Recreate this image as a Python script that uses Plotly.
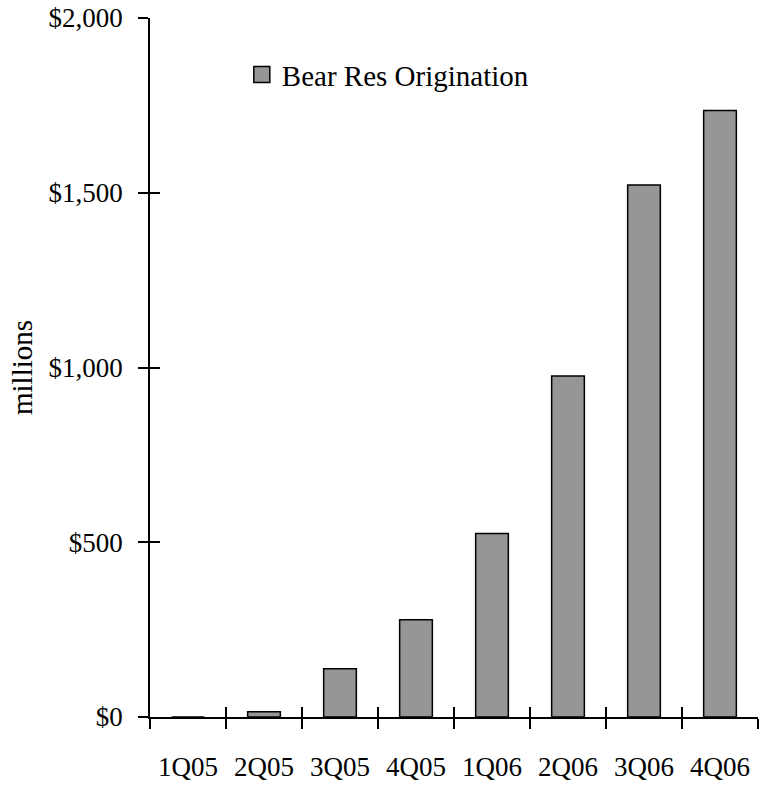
import plotly.graph_objects as go

quarters = ["1Q05", "2Q05", "3Q05", "4Q05", "1Q06", "2Q06", "3Q06", "4Q06"]
origination = [0, 15, 138, 278, 525, 976, 1522, 1735]
series_name = "Bear Res Origination"
y_ticks = [0, 500, 1000, 1500, 2000]
y_tick_labels = ["$0", "$500", "$1,000", "$1,500", "$2,000"]

FONT = "Liberation Serif, Times New Roman, serif"
BAR_FILL = "#969696"

fig = go.Figure()
fig.add_trace(go.Bar(
    x=quarters, y=origination, name=series_name, showlegend=False,
    marker=dict(color=BAR_FILL, line=dict(color="black", width=1.5)),
    hoverinfo="x+y",
))
# invisible copy on overlay axes to draw the inner half of the crossing ticks
fig.add_trace(go.Bar(
    x=quarters, y=origination, xaxis="x2", yaxis="y2", showlegend=False,
    marker=dict(color="rgba(0,0,0,0)", line=dict(width=0)), hoverinfo="skip",
))
# legend entry
fig.add_trace(go.Scatter(
    x=[None], y=[None], mode="markers", name=series_name,
    marker=dict(symbol="square", size=16, color=BAR_FILL,
                line=dict(color="black", width=1.5)),
))

axis_common = dict(showgrid=False, zeroline=False, linecolor="black", linewidth=1.5,
                   tickcolor="black", tickwidth=1.5, ticklen=10)

fig.update_layout(
    width=761, height=785,
    margin=dict(l=150, r=3, t=18, b=65),
    paper_bgcolor="white", plot_bgcolor="white",
    font=dict(family=FONT, size=27, color="black"),
    bargap=0.57,
    xaxis=dict(type="category", categoryarray=quarters, range=[-0.5, 7.5],
               showline=True, ticks="outside", tickson="boundaries",
               ticklabelstandoff=25, **axis_common),
    yaxis=dict(range=[0, 2000], tickvals=y_ticks, ticktext=y_tick_labels,
               showline=True, ticks="outside", ticklabelstandoff=10,
               ticklabeloverflow="allow",
               title=dict(text="millions", standoff=7, font=dict(size=29)),
               **axis_common),
    xaxis2=dict(type="category", categoryarray=quarters, range=[-0.5, 7.5],
                overlaying="x", showline=False, ticks="inside", tickson="boundaries",
                showticklabels=False, showgrid=False, zeroline=False,
                tickcolor="black", tickwidth=1.5, ticklen=10),
    yaxis2=dict(range=[0, 2000], tickvals=y_ticks, overlaying="y", showline=False,
                ticks="inside", showticklabels=False, showgrid=False, zeroline=False,
                tickcolor="black", tickwidth=1.5, ticklen=10),
    legend=dict(x=0.151, y=0.919, xanchor="left", yanchor="middle",
                bgcolor="rgba(0,0,0,0)", font=dict(size=29, family=FONT)),
    showlegend=True,
)

fig.write_html("out.html", config={"displayModeBar": False},
               post_script="document.body.style.margin='0';")
